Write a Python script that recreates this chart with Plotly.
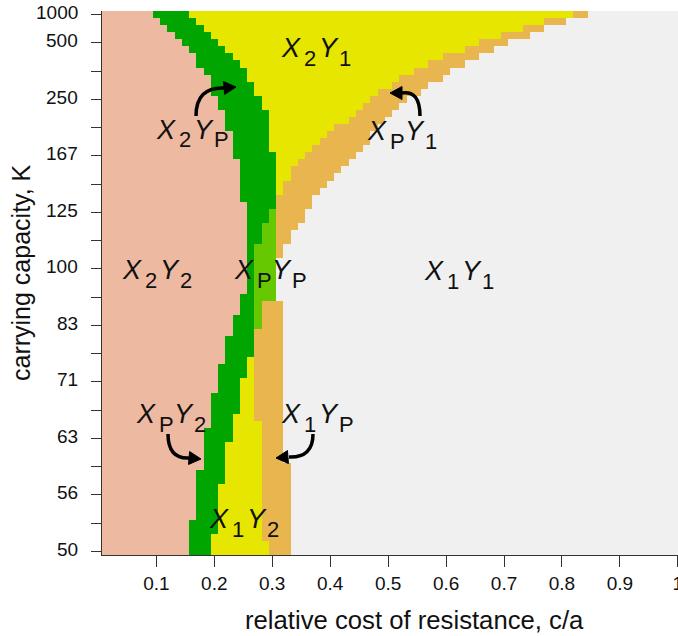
import plotly.graph_objects as go

# ---------------- data ----------------
# grid: column centres of c/a and row centres of 1/K
COST = [round(0.0125 * k, 4) for k in range(1, 81)]
INV_K = [round(0.001 + 0.00025 * j, 6) for j in range(77)]

# for every row (top -> bottom) the last column index (1-based) of each region
SALMON_END = [7, 8, 9, 10, 11, 12, 13, 13, 14, 15, 15, 15, 16, 16, 17, 17, 17, 18, 18, 18,
              18, 19, 19, 19, 19, 19, 19, 20, 20, 20, 20, 20, 20, 20, 20, 20, 20, 20, 20, 20,
              19, 19, 19, 18, 18, 18, 17, 17, 17, 17, 16, 16, 16, 16, 15, 15, 15, 15, 15, 14,
              14, 14, 14, 14, 14, 13, 13, 13, 13, 13, 13, 13, 12, 12, 12, 12, 12]
DKGREEN_END = [12, 13, 14, 15, 16, 17, 18, 19, 20, 20, 21, 21, 22, 22, 23, 23, 23, 23, 23, 23,
               24, 24, 24, 24, 24, 24, 24, 24, 23, 23, 22, 22, 22, 21, 21, 21, 21, 21, 21, 21,
               21, 21, 21, 21, 21, 21, 21, 21, 21, 20, 20, 20, 19, 19, 19, 19, 19, 18, 18, 18,
               18, 17, 17, 17, 17, 17, 17, 16, 16, 16, 16, 16, 16, 16, 15, 15, 15]
LTGREEN_END = [12, 13, 14, 15, 16, 17, 18, 19, 20, 20, 21, 21, 22, 22, 23, 23, 23, 23, 23, 23,
               24, 24, 24, 24, 24, 24, 24, 24, 24, 24, 24, 24, 24, 24, 24, 24, 24, 24, 24, 24,
               24, 22, 22, 22, 22, 21, 21, 21, 21, 20, 20, 20, 19, 19, 19, 19, 19, 18, 18, 18,
               18, 17, 17, 17, 17, 17, 17, 16, 16, 16, 16, 16, 16, 16, 15, 15, 15]
YELLOW_END = [65, 61, 58, 55, 52, 50, 47, 45, 43, 41, 40, 38, 37, 36, 35, 34, 32, 31, 30, 29,
              28, 27, 26, 26, 25, 25, 24, 24, 24, 24, 24, 24, 24, 24, 24, 24, 24, 24, 24, 24,
              24, 22, 22, 22, 22, 21, 21, 21, 21, 21, 21, 21, 21, 21, 21, 21, 21, 21, 22, 22,
              22, 22, 22, 22, 22, 22, 22, 22, 22, 22, 22, 22, 22, 22, 22, 23, 23]
ORANGE_END = [67, 64, 61, 59, 56, 54, 52, 50, 48, 47, 45, 44, 42, 41, 40, 39, 38, 37, 37, 36,
              35, 34, 33, 32, 31, 30, 29, 29, 28, 28, 27, 26, 26, 25, 25, 24, 24, 24, 24, 24,
              24, 25, 25, 25, 25, 25, 25, 25, 25, 25, 25, 25, 25, 25, 25, 25, 25, 25, 25, 25,
              25, 25, 25, 25, 26, 26, 26, 26, 26, 26, 26, 26, 26, 26, 26, 26, 26]

REGIONS = ["X2Y2", "X2YP", "XPYP", "X2Y1", "X1Y2", "XPY1", "X1YP", "X1Y1"]
REGION_COLORS = ["#EDB9A0", "#00A500", "#66C800", "#E6E600", "#E6E600",
                 "#E8B54F", "#E8B54F", "#F0F0F0"]
UPPER_ROWS = 37  # rows above this belong to the Y1 / X2 side

K_TICK_VALS = [0.001, 0.002, 0.004, 0.006, 0.008, 0.010, 0.012, 0.014, 0.016, 0.018, 0.020]
K_TICK_TEXT = ["1000", "500", "250", "167", "125", "100", "83", "71", "63", "56", "50"]
K_MINOR_VALS = [0.003, 0.005, 0.007, 0.009, 0.011, 0.013, 0.015, 0.017, 0.019]
C_TICK_VALS = [0.1, 0.2, 0.3, 0.4, 0.5, 0.6, 0.7, 0.8, 0.9, 1.0]
C_TICK_TEXT = ["0.1", "0.2", "0.3", "0.4", "0.5", "0.6", "0.7", "0.8", "0.9", "1"]
X_TITLE = "relative cost of resistance, c/a"
Y_TITLE = "carrying capacity, K"

# region labels: (main1, sub1, main2, sub2)
LABEL_TEXT = [("X", "2", "Y", "1"), ("X", "2", "Y", "P"), ("X", "P", "Y", "1"),
              ("X", "2", "Y", "2"), ("X", "P", "Y", "P"), ("X", "1", "Y", "1"),
              ("X", "P", "Y", "2"), ("X", "1", "Y", "P"), ("X", "1", "Y", "2")]

# ---------------- build grid ----------------
z = []
for j in range(len(INV_K)):
    row = []
    upper = j < UPPER_ROWS
    for k in range(1, len(COST) + 1):
        if k <= SALMON_END[j]:
            r = "X2Y2"
        elif k <= DKGREEN_END[j]:
            r = "X2YP"
        elif k <= LTGREEN_END[j]:
            r = "XPYP"
        elif k <= YELLOW_END[j]:
            r = "X2Y1" if upper else "X1Y2"
        elif k <= ORANGE_END[j]:
            r = "XPY1" if upper else "X1YP"
        else:
            r = "X1Y1"
        row.append(REGIONS.index(r))
    z.append(row)

n = len(REGIONS)
colorscale = []
for i, c in enumerate(REGION_COLORS):
    colorscale.append([i / n, c])
    colorscale.append([(i + 1) / n, c])

fig = go.Figure(go.Heatmap(
    x=COST, y=INV_K, z=z, colorscale=colorscale, zmin=-0.5, zmax=n - 0.5,
    showscale=False, hoverinfo="skip"))

W, H = 678, 636
ML, MR, MT, MB = 102, 0, 11, 81
PW, PH = W - ML - MR, H - MT - MB


def P(px, py):
    return (px - ML) / PW, 1 - (py - MT) / PH


FONT = "Liberation Sans, Arial, sans-serif"
TXT = "#111111"

# label anchor positions in pixels (left edge, cap centre)
label_pos = [(282, 51), (157, 133), (368, 134), (123, 273), (235, 273),
             (425, 274), (137, 417), (282, 417), (210, 522)]

annotations = []


def add_text(t, px, py, size, italic, xanchor="left", angle=0):
    x, y = P(px, py)
    annotations.append(dict(text=f"<i>{t}</i>" if italic else t, x=x, y=y,
                            xref="paper", yref="paper", showarrow=False,
                            xanchor=xanchor, yanchor="middle", borderpad=0,
                            textangle=angle,
                            font=dict(family=FONT, size=size, color=TXT)))


for (m1, s1, m2, s2), (lx, cy) in zip(LABEL_TEXT, label_pos):
    cy -= 3
    add_text(m1, lx - 2, cy, 27, True)
    add_text(s1, lx + 21, cy + 10, 22, False)
    add_text(m2, lx + 36, cy, 27, True)
    add_text(s2, lx + 56, cy + 10, 22, False)

# axis titles
add_text(X_TITLE, 414, 620, 25.7, False, xanchor="center")
add_text(Y_TITLE, 21, 273, 25, False, xanchor="center", angle=-90)

# y tick labels placed on the y scale, right-aligned at a fixed gap from the axis
for v, t in zip(K_TICK_VALS, K_TICK_TEXT):
    annotations.append(dict(text=t, x=(79 - ML) / PW, y=v, xref="paper", yref="y",
                            showarrow=False, xanchor="right", yanchor="middle",
                            borderpad=0, yshift=2,
                            font=dict(family=FONT, size=19, color=TXT)))

# curved arrows: (start, control, end, tip)
arrows = [
    ((196, 116), (196, 87), (224, 88), (236, 87)),
    ((420, 116), (420, 90), (402, 93), (390, 93)),
    ((168, 434), (168, 459), (189, 458), (201, 459)),
    ((313, 434), (313, 458), (289, 457), (276, 458)),
]
shapes = []
for (sx, sy), (cx, cy), (ex, ey), (tx, ty) in arrows:
    a, b = P(sx, sy)
    c, d = P(cx, cy)
    e, f = P(ex, ey)
    shapes.append(dict(type="path", xref="paper", yref="paper",
                       path=f"M {a},{b} Q {c},{d} {e},{f}",
                       line=dict(color="black", width=3.5)))
    dx, dy = tx - ex, ty - ey
    L = (dx * dx + dy * dy) ** 0.5
    ux, uy = dx / L, dy / L
    bx, by = tx - ux * 12, ty - uy * 12
    p1 = P(tx, ty)
    p2 = P(bx - uy * 6.5, by + ux * 6.5)
    p3 = P(bx + uy * 6.5, by - ux * 6.5)
    shapes.append(dict(type="path", xref="paper", yref="paper",
                       path=f"M {p1[0]},{p1[1]} L {p2[0]},{p2[1]} L {p3[0]},{p3[1]} Z",
                       fillcolor="black", line=dict(color="black", width=1)))

fig.update_layout(
    width=W, height=H, margin=dict(l=ML, r=MR, t=MT, b=MB, autoexpand=False),
    paper_bgcolor="white", plot_bgcolor="white",
    font=dict(family=FONT, color=TXT),
    annotations=annotations, shapes=shapes,
    xaxis=dict(range=[0.00625, 1.0002], tickvals=C_TICK_VALS, ticktext=C_TICK_TEXT,
               automargin=False, ticklabeloverflow="allow",
               ticks="outside", ticklen=11, tickwidth=1, tickcolor="#333333",
               showline=True, linecolor="#333333", linewidth=1.2,
               showgrid=False, zeroline=False,
               tickfont=dict(size=19, family=FONT, color=TXT)),
    yaxis=dict(range=[0.020125, 0.000875], tickvals=K_TICK_VALS,
               showticklabels=False, automargin=False,
               ticks="outside", ticklen=10, tickwidth=1, tickcolor="#333333",
               minor=dict(tickvals=K_MINOR_VALS, ticks="outside", ticklen=10,
                          tickwidth=1, tickcolor="#333333", showgrid=False),
               showline=True, linecolor="#333333", linewidth=1.2,
               showgrid=False, zeroline=False),
)

fig.write_html(
    "out.html",
    config={"displayModeBar": False, "staticPlot": True},
    post_script="document.body.style.margin='0px';"
                "document.documentElement.style.overflow='hidden';"
                "document.body.style.overflow='hidden';")
